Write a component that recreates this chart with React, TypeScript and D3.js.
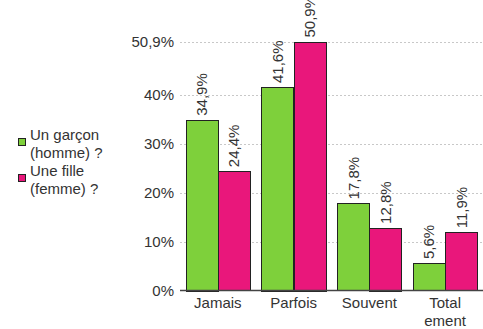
import React from "react";
import * as d3 from "d3";

const categories = ["Jamais", "Parfois", "Souvent", "Totalement"];
const categoryLines = [["Jamais"], ["Parfois"], ["Souvent"], ["Total", "ement"]];
const seriesNames = ["Un garçon (homme) ?", "Une fille (femme) ?"];
const legendLines = [["Un garçon", "(homme) ?"], ["Une fille", "(femme) ?"]];
const garcon = [34.9, 41.6, 17.8, 5.6];
const fille = [24.4, 50.9, 12.8, 11.9];
const yTicks = [0, 10, 20, 30, 40, 50.9];
const colors = ["#7ed03b", "#e9177b"];

const W = 483, H = 329;
const left = 180, right = 483, top = 41.5, bottom = 290.5;
const fmt = (v: number) => (Number.isInteger(v) ? `${v}%` : `${v.toFixed(1).replace(".", ",")}%`);

export default function App() {
  const x = d3.scaleBand<string>().domain(categories).range([left, right]).paddingInner(0.15).paddingOuter(0.075);
  const y = d3.scaleLinear().domain([0, 50.9]).range([bottom, top]);
  const inner = d3.scaleBand<number>().domain([0, 1]).range([0, x.bandwidth()]);
  const series = [garcon, fille];
  const font = "Liberation Sans, Arial, sans-serif";
  const fs = 15;
  return (
    <svg width={W} height={H} style={{ position: "absolute", left: 0, top: 0, background: "#fff" }} fontFamily={font}>
      {yTicks.map((t) => (
        <g key={t}>
          {t > 0 && (
            <line x1={left} x2={right} y1={Math.round(y(t)) + 0.5} y2={Math.round(y(t)) + 0.5} stroke="#c8c8c8" strokeDasharray="2,2" />
          )}
          <text x={174} y={y(t)} dy="0.36em" textAnchor="end" fontSize={fs} fill="#333">{fmt(t)}</text>
        </g>
      ))}
      {series.map((vals, si) =>
        vals.map((v, ci) => {
          const bx = (x(categories[ci]) as number) + (inner(si) as number);
          const bw = inner.bandwidth();
          const cx = bx + bw / 2;
          const ty = y(v) - 4;
          return (
            <g key={`${si}-${ci}`}>
              <rect x={Math.round(bx) + 0.5} y={Math.round(y(v)) + 0.5} width={Math.round(bw)} height={Math.round(bottom - y(v))} fill={colors[si]} stroke="#222" strokeWidth={1} />
              <text transform={`translate(${cx},${ty}) rotate(-90)`} dy="0.36em" fontSize={fs} fill="#333">{fmt(v)}</text>
            </g>
          );
        })
      )}
      <line x1={left} x2={right} y1={bottom} y2={bottom} stroke="#444" strokeWidth={1.5} />
      {categoryLines.map((lines, ci) => (
        <text key={ci} x={(x(categories[ci]) as number) + x.bandwidth() / 2} y={308} textAnchor="middle" fontSize={fs} fill="#333">
          {lines.map((l, li) => (
            <tspan key={li} x={(x(categories[ci]) as number) + x.bandwidth() / 2} dy={li === 0 ? 0 : 18}>{l}</tspan>
          ))}
        </text>
      ))}
      {legendLines.map((lines, si) => (
        <g key={si} aria-label={seriesNames[si]}>
          <rect x={18.5} y={138.5 + si * 36} width={7} height={7} fill={colors[si]} stroke="#222" />
          <text x={30} y={140 + si * 36} fontSize={fs} fill="#333">
            {lines.map((l, li) => (
              <tspan key={li} x={30} dy={li === 0 ? 0 : 18}>{l}</tspan>
            ))}
          </text>
        </g>
      ))}
    </svg>
  );
}
